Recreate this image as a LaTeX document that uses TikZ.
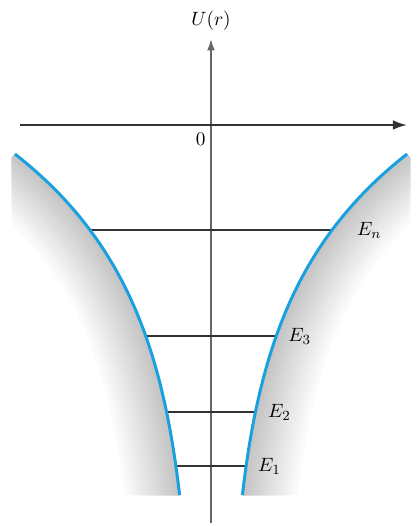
\documentclass[tikz,border=0pt]{standalone}
\usepackage{amsmath,amssymb}
\usetikzlibrary{arrows.meta,positioning}
\definecolor{wellblue}{RGB}{25,160,222}
\tikzset{
  axis/.style={-{Latex[length=8pt,width=5.5pt]}, line width=1.1pt, black!80},
  vaxis/.style={-{Latex[length=6.5pt,width=4.5pt]}, line width=1pt, black!60},
  well/.style={line width=1.7pt, wellblue},
  level/.style={line width=1.1pt, black!80},
  lbl/.style={font=\fontsize{11}{13}\selectfont, inner sep=1pt},
}
\newcommand{\wellcurve}{plot[domain=-7.4:-0.58, samples=60, variable=\t] ({0.3+4.44*exp(0.352*\t)}, \t)}

\begin{document}
\begin{tikzpicture}
  \useasboundingbox (-4.22,-8.02) rectangle (4.12,2.5);

  % Grey walls outside the well
  \foreach \s in {1,-1}{
    \begin{scope}[xscale=\s]
      \clip \wellcurve -- (3.98,-0.58) -- (3.98,-7.4) -- cycle;
      \foreach \i [evaluate=\i as \w using 66-3*\i, evaluate=\i as \c using 2.2*\i] in {1,...,21}
        \draw[line width=\w pt, gray!\c] \wellcurve;
    \end{scope}
  }

  % Axes
  \coordinate (O) at (0,0);
  \coordinate (xl) at (-3.82,0);
  \coordinate (xr) at (3.92,0);
  \coordinate (yb) at (0,-7.96);
  \coordinate (yt) at (0,1.72);
  \draw[vaxis] (yb) -- (yt);
  \draw[axis] (xl) -- (xr);
  \node[lbl, above=4pt of yt] (ulabel) {$U(r)$};
  \node[lbl, below left=3.5pt and 2pt of O] (zero) {$0$};

  % Energy levels
  \foreach \n/\yy/\xx/\g in {1/-6.82/0.70/0.2, 2/-5.74/0.889/0.21, 3/-4.22/1.305/0.2, n/-2.1/2.42/0.46}{
    \coordinate (l\n) at (-\xx,\yy);
    \coordinate (r\n) at (\xx,\yy);
    \draw[level] (l\n) -- (r\n);
    \node[lbl, right=\g cm of r\n] (e\n) {$E_\n$};
  }

  % Potential curve
  \draw[well] \wellcurve;
  \draw[well, xscale=-1] \wellcurve;
\end{tikzpicture}
\end{document}
